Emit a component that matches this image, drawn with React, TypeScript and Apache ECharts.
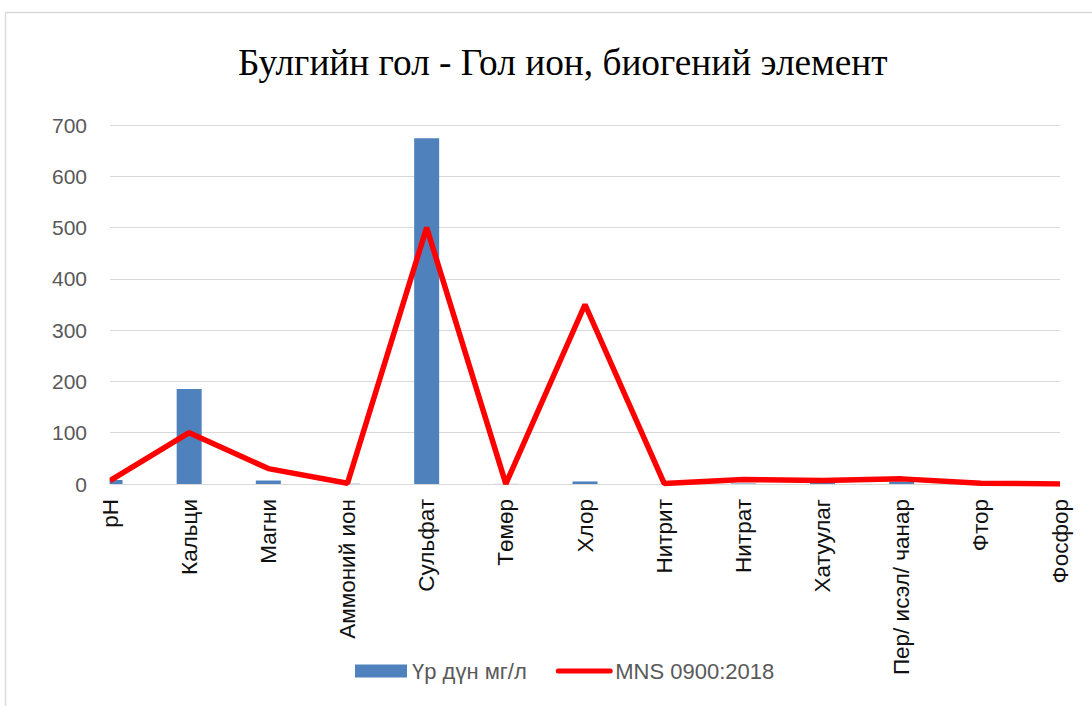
import React, { useEffect, useRef } from "react";
import * as echarts from "echarts";

const categories = [
  "pH",
  "Кальци",
  "Магни",
  "Аммоний ион",
  "Сульфат",
  "Төмөр",
  "Хлор",
  "Нитрит",
  "Нитрат",
  "Хатуулаг",
  "Пер/ исэл/ чанар",
  "Фтор",
  "Фосфор",
];
const measured = [7.8, 185, 7, 0.5, 674, 0.2, 5, 0.05, 1, 4, 5, 0.5, 0.1];
const mns = [6.5, 100, 30, 1.5, 500, 0.3, 350, 1, 9, 7, 10, 1.5, 0.1];
const yTicks = { min: 0, max: 700, interval: 100 };

export default function App() {
  const ref = useRef<HTMLDivElement>(null);
  useEffect(() => {
    if (!ref.current) return;
    const chart = echarts.init(ref.current, null, { renderer: "svg" });
    const sans = "Liberation Sans";
    chart.setOption({
      animation: false,
      backgroundColor: "#ffffff",
      title: {
        text: "Булгийн гол - Гол ион, биогений элемент",
        left: 233,
        top: 39,
        textStyle: {
          fontFamily: "Liberation Serif",
          fontSize: 37.3,
          fontWeight: "normal",
          color: "#000000",
        },
      },
      graphic: [
        {
          type: "rect",
          shape: { x: 5.5, y: 12.5, width: 1200, height: 800 },
          style: { fill: "none", stroke: "#d9d9d9", lineWidth: 1.5 },
          silent: true,
          z: -1,
        },
        {
          type: "rect",
          shape: { x: 89, y: 118, width: 20.5, height: 372 },
          style: { fill: "#ffffff" },
          silent: true,
          z: 100,
        },
      ],
      legend: {
        left: 350,
        top: 655,
        itemWidth: 52,
        itemHeight: 13,
        itemGap: 29,
        textStyle: { fontFamily: sans, fontSize: 22, color: "#595959" },
        data: [
          { name: "Үр дүн мг/л", icon: "rect" },
          {
            name: "MNS 0900:2018",
            itemStyle: { opacity: 0 },
            lineStyle: { width: 5, cap: "round", color: "#ff0000" },
          },
        ],
      },
      grid: { left: 110, right: 32, top: 125, bottom: 222, containLabel: false },
      xAxis: {
        type: "category",
        data: categories,
        boundaryGap: false,
        axisLine: { lineStyle: { color: "#d9d9d9", width: 1 } },
        axisTick: { show: false },
        axisLabel: {
          rotate: 90,
          interval: 0,
          margin: 15,
          fontFamily: sans,
          fontSize: 22.5,
          color: "#111111",
        },
      },
      yAxis: {
        type: "value",
        min: yTicks.min,
        max: yTicks.max,
        interval: yTicks.interval,
        axisLine: { show: false },
        axisTick: { show: false },
        axisLabel: {
          margin: 23,
          fontFamily: sans,
          fontSize: 21,
          color: "#595959",
        },
        splitLine: { lineStyle: { color: "#d9d9d9", width: 1 } },
      },
      series: [
        {
          name: "Үр дүн мг/л",
          type: "bar",
          data: measured,
          barWidth: 25,
          clip: true,
          itemStyle: { color: "#4f81bd" },
        },
        {
          name: "MNS 0900:2018",
          type: "line",
          data: mns,
          symbol: "none",
          showSymbol: false,
          lineStyle: { color: "#ff0000", width: 5.5 },
          itemStyle: { color: "#ff0000" },
          z: 3,
        },
      ],
    });
    return () => chart.dispose();
  }, []);
  return (
    <div
      ref={ref}
      style={{ position: "fixed", left: 0, top: 0, width: 1092, height: 706 }}
    />
  );
}
